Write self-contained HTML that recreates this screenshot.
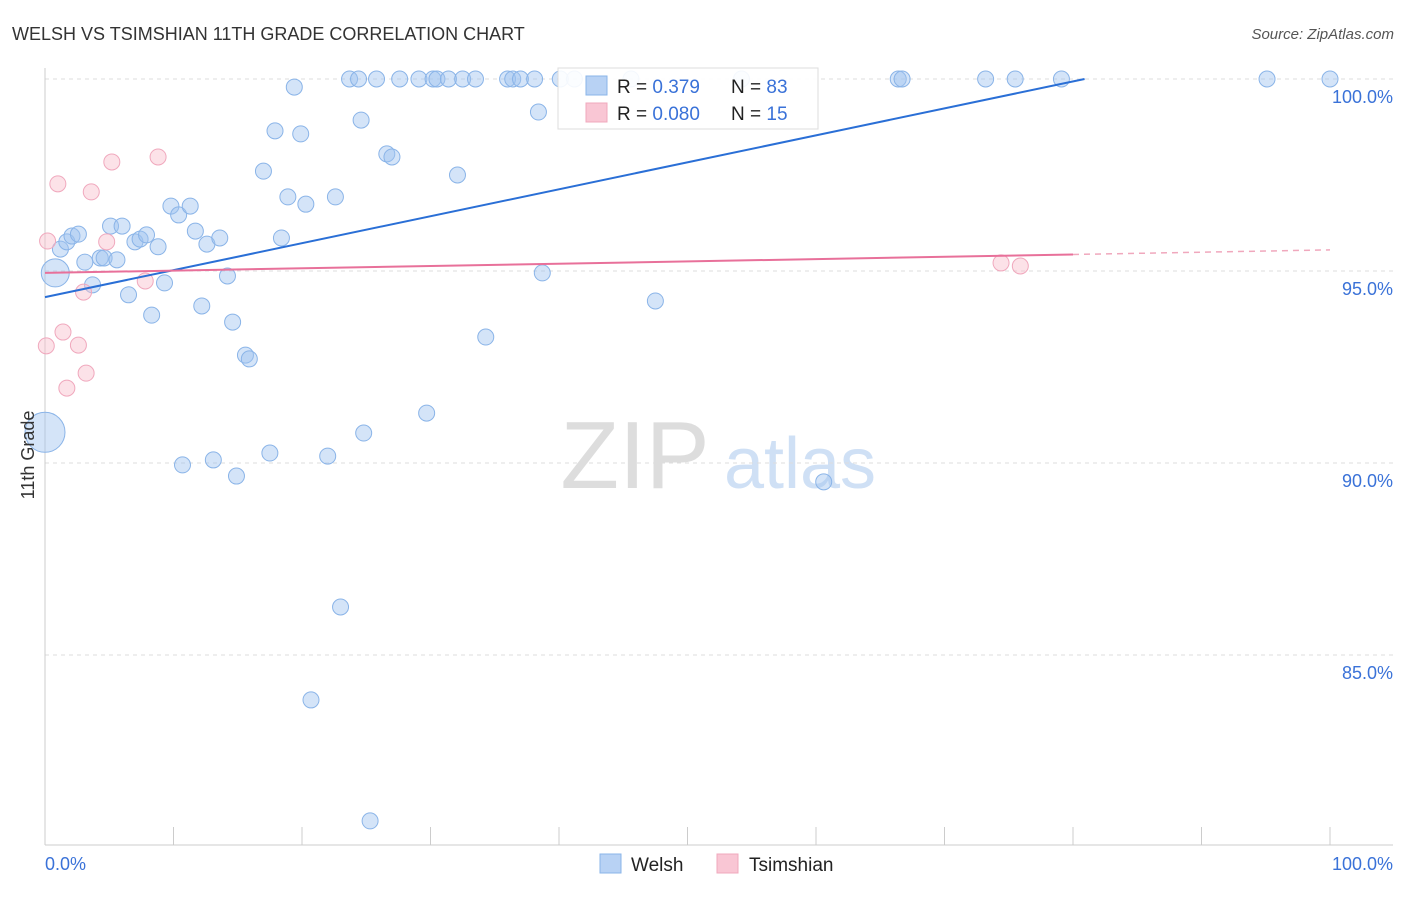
<!DOCTYPE html>
<html><head><meta charset="utf-8"><style>
body{margin:0;background:#fff;font-family:"Liberation Sans",sans-serif;}
svg text{font-family:"Liberation Sans",sans-serif;}
</style></head><body>
<svg id="chart" width="1406" height="892" xmlns="http://www.w3.org/2000/svg">
<text x="12" y="40" font-size="18" fill="#333">WELSH VS TSIMSHIAN 11TH GRADE CORRELATION CHART</text>
<text x="1394" y="39" font-size="15" fill="#555" text-anchor="end" font-style="italic">Source: ZipAtlas.com</text>
<g>
<text x="635" y="488" font-size="96" fill="#ddd" text-anchor="middle" font-family="Liberation Serif,serif">ZIP</text>
<text x="800" y="488" font-size="72" fill="#cfe0f5" text-anchor="middle">atlas</text>
</g>
<g id="grid"></g><g id="axes"></g><g id="pts"></g><g id="lines"></g>
<text transform="translate(34,455) rotate(-90)" font-size="18" fill="#333" text-anchor="middle">11th Grade</text>
<g>
<rect x="558" y="68" width="260" height="61" fill="#fff" fill-opacity="0.9" stroke="#ddd"/>
<rect x="586" y="76" width="21" height="19" fill="#b8d2f4" stroke="#8ab4e8"/>
<rect x="586" y="103" width="21" height="19" fill="#f9c6d4" stroke="#f0a8bd"/>
<text x="617" y="93" font-size="19" fill="#222">R = <tspan fill="#3a72d8">0.379</tspan><tspan x="731">N = </tspan><tspan fill="#3a72d8">83</tspan></text>
<text x="617" y="120" font-size="19" fill="#222">R = <tspan fill="#3a72d8">0.080</tspan><tspan x="731">N = </tspan><tspan fill="#3a72d8"> 15</tspan></text>
</g>
<g>
<rect x="600" y="854" width="21" height="19" fill="#b8d2f4" stroke="#8ab4e8"/>
<text x="631" y="871" font-size="19" fill="#222">Welsh</text>
<rect x="717" y="854" width="21" height="19" fill="#f9c6d4" stroke="#f0a8bd"/>
<text x="749" y="871" font-size="19" fill="#222">Tsimshian</text>
</g>
</svg>
<script>
const welshX=[0.8,0,1.2,1.7,2.1,2.6,3.1,3.7,4.3,4.6,5.1,5.6,6.0,6.5,7.0,7.4,7.9,8.3,8.8,9.3,9.8,10.4,10.7,11.3,11.7,12.2,12.6,13.1,13.6,14.2,14.6,14.9,15.6,15.9,17.0,17.5,17.9,18.4,18.9,19.4,19.9,20.3,20.7,22.0,22.6,23.0,23.7,24.4,24.6,24.8,25.3,25.8,26.6,27.0,27.6,29.1,29.7,30.2,30.5,31.4,32.1,32.5,33.5,34.3,36.0,36.4,37.0,38.1,38.4,38.7,40.1,41.2,45.6,47.5,54.2,60.6,66.4,66.7,73.2,75.5,79.1,95.1,100];
const welshY=[94.95,90.8,95.57,95.76,95.91,95.96,95.23,94.64,95.34,95.34,96.17,95.29,96.17,94.38,95.76,95.83,95.94,93.85,95.63,94.69,96.69,96.46,89.95,96.69,96.04,94.09,95.70,90.08,95.86,94.87,93.67,89.66,92.81,92.71,97.60,90.26,98.65,95.86,96.93,99.79,98.57,96.74,83.83,90.18,96.93,86.25,100,100,98.93,90.78,80.68,100,98.05,97.97,100,100,91.30,100,100,100,97.5,100,100,93.28,100,100,100,100,99.14,94.95,100,100,100,94.22,100,89.51,100,100,100,100,100,100,100];
const welshBig=[0,1];
const tsimX=[0.2,1.0,3.6,5.2,8.8,4.8,3.0,7.8,1.4,2.6,0.1,3.2,1.7,74.4,75.9];
const tsimY=[95.78,97.27,97.06,97.84,97.97,95.76,94.45,94.74,93.41,93.07,93.05,92.34,91.95,95.21,95.13];
const welshTrend=[[0,94.32],[80.9,100]];
const tsimTrend=[[0,94.95],[80,95.43],[100,95.55]];
const yTicks=[100,95,90,85];
const yTickLabels=["100.0%","95.0%","90.0%","85.0%"];
const xTicks=[0,10,20,30,40,50,60,70,80,90,100];
const xs=v=>45+v*12.85, ys=v=>79+(100-v)*38.4;
const NS="http://www.w3.org/2000/svg";
function mk(p,tag,at){const e=document.createElementNS(NS,tag);for(const k in at)e.setAttribute(k,at[k]);p.appendChild(e);return e;}
const grid=document.getElementById('grid'),axes=document.getElementById('axes'),pts=document.getElementById('pts'),lines=document.getElementById('lines');
yTicks.forEach((t,i)=>{const l=mk(grid,'line',{x1:45,x2:1393,y1:ys(t),y2:ys(t),stroke:'#ddd','stroke-dasharray':'4,4'});


const tx=mk(axes,'text',{x:1393,y:ys(t)+24,'font-size':18,fill:'#3a72d8','text-anchor':'end'});tx.textContent=yTickLabels[i];

});
const ax=mk(axes,'line',{x1:45,x2:45,y1:68,y2:845,stroke:'#ccc'});


const bx=mk(axes,'line',{x1:45,x2:1393,y1:845,y2:845,stroke:'#ccc'});


xTicks.forEach(t=>{const l=mk(axes,'line',{x1:xs(t),x2:xs(t),y1:827,y2:845,stroke:'#ccc'});

});
[[0,'0.0%','start',45],[100,'100.0%','end',1393]].forEach(a=>{const t=mk(axes,'text',{x:a[3],y:870,'font-size':18,fill:'#3a72d8','text-anchor':a[2]});t.textContent=a[1];

});
welshX.forEach((x,i)=>{const r=i===0?14:(i===1?20:8);const c=mk(pts,'circle',{cx:xs(x),cy:ys(welshY[i]),r:r,fill:'rgba(160,196,240,0.45)',stroke:'#8ab4e8','stroke-width':1});

});
tsimX.forEach((x,i)=>{const c=mk(pts,'circle',{cx:xs(x),cy:ys(tsimY[i]),r:8,fill:'rgba(248,190,205,0.45)',stroke:'#f0a8bd','stroke-width':1});

});
const wl=mk(lines,'line',{x1:xs(welshTrend[0][0]),y1:ys(welshTrend[0][1]),x2:xs(welshTrend[1][0]),y2:ys(welshTrend[1][1]),stroke:'#2a6fd6','stroke-width':2});


const tl=mk(lines,'line',{x1:xs(tsimTrend[0][0]),y1:ys(tsimTrend[0][1]),x2:xs(tsimTrend[1][0]),y2:ys(tsimTrend[1][1]),stroke:'#e8709a','stroke-width':2});


const td=mk(lines,'line',{x1:xs(tsimTrend[1][0]),y1:ys(tsimTrend[1][1]),x2:xs(tsimTrend[2][0]),y2:ys(tsimTrend[2][1]),stroke:'#f0a8bd','stroke-width':1.5,'stroke-dasharray':'6,5'});


</script>
</body></html>
